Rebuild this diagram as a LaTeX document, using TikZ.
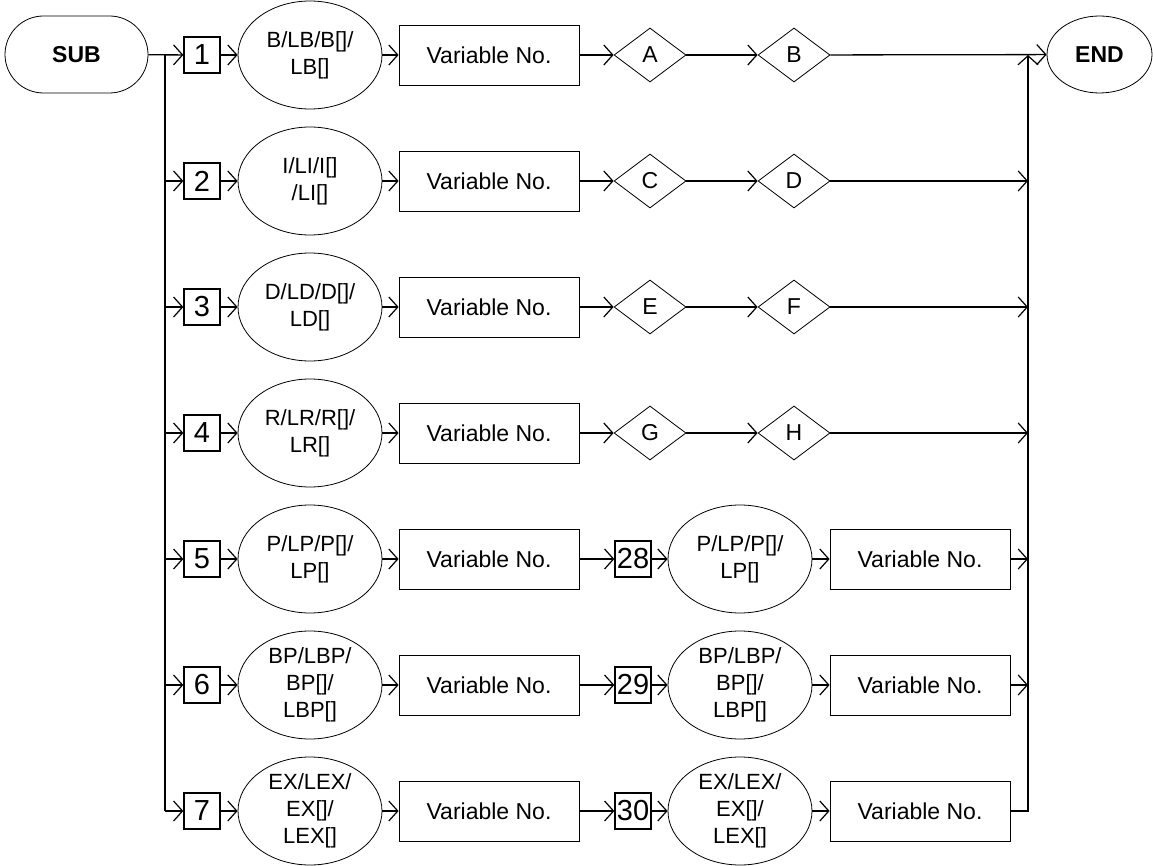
\documentclass[tikz,border=0pt]{standalone}
\usepackage{fontspec}
\setmainfont{Liberation Sans}
\usetikzlibrary{shapes.geometric,shapes.misc,arrows.meta}
\begin{document}
\begin{tikzpicture}[x=1pt,y=-1pt,
  shp/.style={draw, line width=0.8pt, inner sep=0pt, align=center, font=\fontsize{22}{27}\selectfont},
  numbox/.style={draw, line width=1.3pt, minimum size=36pt, inner sep=0pt, font=\fontsize{29}{29}\selectfont},
  ell/.style={shp, ellipse, minimum width=144pt, minimum height=108pt},
  varbox/.style={shp, rectangle, minimum width=180pt, minimum height=60pt, font=\fontsize{23}{27}\selectfont},
  dia/.style={shp, diamond, minimum width=72pt, minimum height=54pt, font=\fontsize{23}{27}\selectfont},
  conn/.style={line width=1.3pt, -{Straight Barb[length=9pt,width=20pt,line width=1.2pt]}},
  plainline/.style={line width=1.3pt}]
\useasboundingbox (0,0) rectangle (1153,866);

\node[shp, rounded rectangle, minimum width=143pt, minimum height=77pt, font=\fontsize{23}{27}\selectfont\bfseries] (sub) at (76.5,54.5) {SUB};
\node[shp, ellipse, minimum width=105pt, minimum height=77pt, font=\fontsize{23}{27}\selectfont\bfseries] (end) at (1099.5,54.5) {END};

\coordinate (L1) at (165,55);
\coordinate (L7) at (165,811);
\coordinate (R1) at (1028,55);

% row 1
\node[numbox] (n1) at (202,55) {1};
\node[ell] (e1) at (310,55) {B/LB/B[]/\\LB[]};
\node[varbox] (v1) at (489,55) {Variable No.};
\node[dia] (a1) at (650,55) {A};
\node[dia] (b1) at (794,55) {B};
% row 2
\node[numbox] (n2) at (202,181) {2};
\node[ell] (e2) at (310,181) {I/LI/I[]\\/LI[]};
\node[varbox] (v2) at (489,181) {Variable No.};
\node[dia] (a2) at (650,181) {C};
\node[dia] (b2) at (794,181) {D};
% row 3
\node[numbox] (n3) at (202,307) {3};
\node[ell] (e3) at (310,307) {D/LD/D[]/\\LD[]};
\node[varbox] (v3) at (489,307) {Variable No.};
\node[dia] (a3) at (650,307) {E};
\node[dia] (b3) at (794,307) {F};
% row 4
\node[numbox] (n4) at (202,433) {4};
\node[ell] (e4) at (310,433) {R/LR/R[]/\\LR[]};
\node[varbox] (v4) at (489,433) {Variable No.};
\node[dia] (a4) at (650,433) {G};
\node[dia] (b4) at (794,433) {H};
% row 5
\node[numbox] (n5) at (202,559) {5};
\node[ell] (e5) at (310,559) {P/LP/P[]/\\LP[]};
\node[varbox] (v5) at (489,559) {Variable No.};
\node[numbox] (m5) at (633,559) {28};
\node[ell] (f5) at (740,559) {P/LP/P[]/\\LP[]};
\node[varbox] (w5) at (920,559) {Variable No.};
% row 6
\node[numbox] (n6) at (202,685) {6};
\node[ell] (e6) at (310,685) {BP/LBP/\\BP[]/\\LBP[]};
\node[varbox] (v6) at (489,685) {Variable No.};
\node[numbox] (m6) at (633,685) {29};
\node[ell] (f6) at (740,685) {BP/LBP/\\BP[]/\\LBP[]};
\node[varbox] (w6) at (920,685) {Variable No.};
% row 7
\node[numbox] (n7) at (202,811) {7};
\node[ell] (e7) at (310,811) {EX/LEX/\\EX[]/\\LEX[]};
\node[varbox] (v7) at (489,811) {Variable No.};
\node[numbox] (m7) at (633,811) {30};
\node[ell] (f7) at (740,811) {EX/LEX/\\EX[]/\\LEX[]};
\node[varbox] (w7) at (920,811) {Variable No.};

% connectors
\draw[conn] (sub) -- (n1);
\draw[plainline] (L1) -- (L7);
\foreach \i in {2,...,7} { \draw[conn] (n\i -| L1) -- (n\i); }
\foreach \i in {1,...,7} {
  \draw[conn] (n\i) -- (e\i);
  \draw[conn] (e\i) -- (v\i);
}
\foreach \i in {1,...,4} {
  \draw[conn] (v\i) -- (a\i);
  \draw[conn] (a\i) -- (b\i);
}
\foreach \i in {2,...,4} { \draw[conn] (b\i) -- (b\i -| R1); }
\foreach \i in {5,6,7} {
  \draw[conn] (v\i) -- (m\i);
  \draw[conn] (m\i) -- (f\i);
  \draw[conn] (f\i) -- (w\i);
}
\foreach \i in {5,6} { \draw[conn] (w\i) -- (w\i -| R1); }
\draw[conn] (w7) -| (R1);
\draw[conn] (b1) -- (end);
\end{tikzpicture}
\end{document}
